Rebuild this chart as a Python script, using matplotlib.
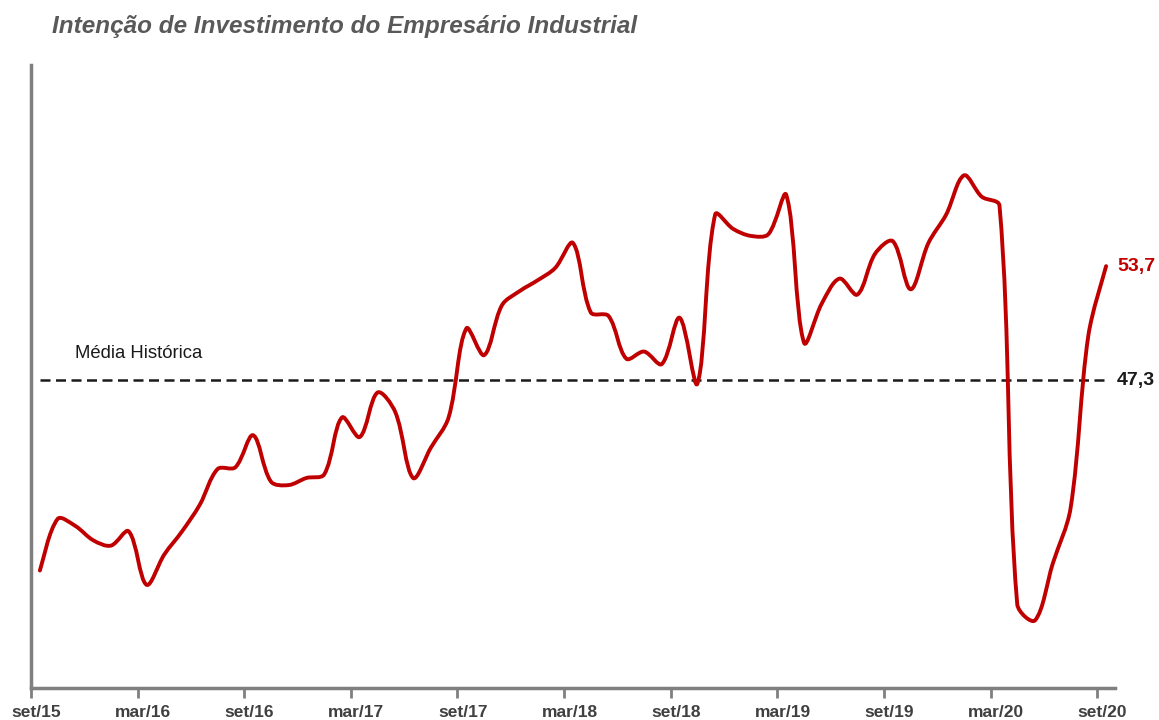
import numpy as np
import matplotlib
matplotlib.use("Agg")
import matplotlib.pyplot as plt
from matplotlib.path import Path
from matplotlib.patches import PathPatch

plt.rcParams['font.family'] = ['Liberation Sans', 'DejaVu Sans']

title = "Intenção de Investimento do Empresário Industrial"
tick_labels = ["set/15", "mar/16", "set/16", "mar/17", "set/17", "mar/18",
               "set/18", "mar/19", "set/19", "mar/20", "set/20"]
values = [36.6, 39.5, 39.1, 38.3, 38.0, 38.8, 35.8, 37.5, 38.8, 40.3,
          42.3, 42.4, 44.2, 41.6, 41.4, 41.8, 42.0, 45.2, 44.1, 46.6,
          45.5, 41.8, 43.5, 45.2, 50.2, 48.7, 51.5, 52.3, 52.9, 53.6,
          55.0, 51.1, 50.9, 48.5, 48.9, 48.2, 50.8, 47.1, 56.6, 55.8,
          55.4, 55.5, 57.7, 49.4, 51.6, 53.0, 52.1, 54.4, 55.1, 52.4,
          55.0, 56.6, 58.8, 57.6, 57.1, 34.7, 33.8, 37.0, 40.1, 49.8,
          53.7]
media_historica = 47.3
last_value = 53.7

fig = plt.figure(figsize=(11.59, 7.2), dpi=100)
ax = fig.add_axes([31/1159, 32/720, (1115-31)/1159, (688-65)/720])

x = np.arange(len(values), dtype=float)
y = np.array(values, dtype=float)
P = np.column_stack([x, y])
n = len(P)

# Smoothed line: Bezier through the data points with chord-length scaled tangents
def tangent(i):
    a = P[max(i-1, 0)]
    b = P[min(i+1, n-1)]
    return b - a

verts = [tuple(P[0])]
codes = [Path.MOVETO]
for i in range(n - 1):
    p1, p2 = P[i], P[i+1]
    d12 = np.hypot(*(p2 - p1))
    # outgoing control at p1
    d01 = np.hypot(*(p1 - P[max(i-1, 0)])) if i > 0 else d12
    t1 = tangent(i) if i > 0 else (p2 - p1)
    c1 = p1 + t1 * (d12 / (d01 + d12)) / 3.0 * (1.0 if i > 0 else 1.0)
    # incoming control at p2
    if i + 2 <= n - 1:
        d23 = np.hypot(*(P[i+2] - p2))
        t2 = tangent(i+1)
    else:
        d23 = d12
        t2 = p2 - p1
    c2 = p2 - t2 * (d12 / (d12 + d23)) / 3.0
    verts += [tuple(c1), tuple(c2), tuple(p2)]
    codes += [Path.CURVE4, Path.CURVE4, Path.CURVE4]
path = Path(verts, codes)
ax.add_patch(PathPatch(path, facecolor='none', edgecolor='#C00000', lw=2.8,
                       capstyle='round', joinstyle='round', zorder=3))

# Historical average
ax.plot([x[0], x[-1]], [media_historica, media_historica], color='#1a1a1a',
        lw=1.8, dashes=(4, 2.2), zorder=2)

ax.set_xlim(-0.5, len(values) - 0.5)
ax.set_ylim(30, 65)

for s in ['top', 'right']:
    ax.spines[s].set_visible(False)
ax.spines['left'].set_color('#7f7f7f')
ax.spines['left'].set_linewidth(2.5)
ax.spines['bottom'].set_color('#7f7f7f')
ax.spines['bottom'].set_linewidth(2.5)
ax.set_yticks([])

major = [6*k - 0.5 for k in range(len(tick_labels))]
ax.set_xticks(major)
ax.set_xticklabels([])
ax.tick_params(axis='x', which='major', length=7, width=2, color='#7f7f7f', direction='out')
ax.set_xticks([m + 0.3 for m in major], minor=True)
ax.set_xticklabels(tick_labels, minor=True, fontsize=12.5, fontweight='bold', color='#404040')
ax.tick_params(axis='x', which='minor', length=0, pad=12)

ax.text(2.0, media_historica + 1.0, "Média Histórica", fontsize=13.3, color='#1a1a1a',
        ha='left', va='bottom')
ax.text(60.62, media_historica, "47,3", fontsize=14, fontweight='bold', color='#1a1a1a',
        ha='left', va='center', clip_on=False)
ax.text(60.62, last_value, "53,7", fontsize=14, fontweight='bold', color='#C00000',
        ha='left', va='center', clip_on=False)

fig.text(52/1159, 1 - 27/720, title, fontsize=17.5, fontweight='bold', style='italic',
         color='#595959', ha='left', va='center')

fig.savefig("out.png", dpi=100)
